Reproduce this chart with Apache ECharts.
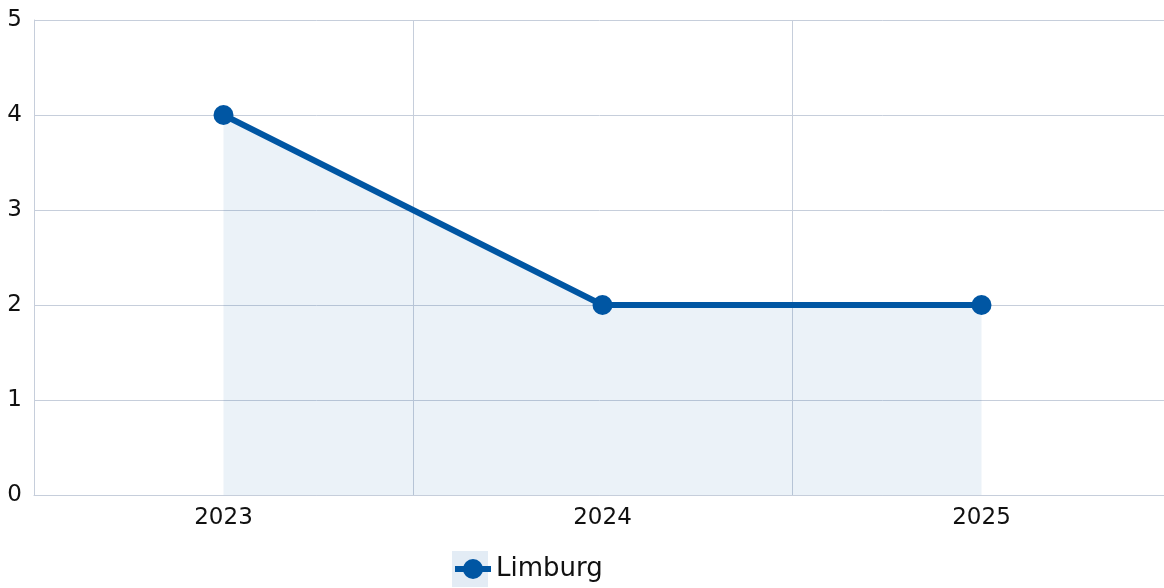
<!DOCTYPE html>
<html>
<head>
<meta charset="utf-8">
<style>
  html, body { margin: 0; padding: 0; background: #ffffff; }
  #chart { width: 1164px; height: 588px; }
</style>
<script src="https://cdn.jsdelivr.net/npm/echarts@6/dist/echarts.min.js"></script>
</head>
<body>
<div id="chart"></div>
<script>
// Yearly counts for Limburg
const years = ['2023', '2024', '2025'];
const limburgValues = [4, 2, 2];
const seriesName = 'Limburg';

const lineColor = '#0056a3';
const areaColor = 'rgba(0, 86, 163, 0.11)';
const gridColor = '#c6cedb';
const font = '"DejaVu Sans", "Noto Sans", sans-serif';

const chart = echarts.init(document.getElementById('chart'), null, { renderer: 'canvas' });

chart.setOption({
  animation: false,
  textStyle: { fontFamily: font },
  // the plot runs slightly past the right edge of the canvas
  grid: { left: 34, top: 20, width: 1137, height: 475, containLabel: false, outerBoundsMode: 'none' },
  legend: {
    data: [seriesName],
    left: 452,
    top: 556,
    itemWidth: 36,
    itemHeight: 25,
    itemGap: 10,
    lineStyle: { width: 6 },
    textStyle: { fontSize: 26, color: '#111', fontFamily: font },
    padding: 0
  },
  xAxis: {
    type: 'category',
    data: years,
    boundaryGap: true,
    axisLine: { lineStyle: { color: gridColor, width: 1 } },
    axisTick: { show: false },
    axisLabel: { fontSize: 23, color: '#111', margin: 12, fontFamily: font },
    splitLine: { show: true, lineStyle: { color: gridColor, width: 1 } }
  },
  yAxis: {
    type: 'value',
    min: 0,
    max: 5,
    interval: 1,
    axisLine: { show: true, lineStyle: { color: gridColor, width: 1 } },
    axisTick: { show: false },
    axisLabel: { fontSize: 23, color: '#111', margin: 12, fontFamily: font },
    splitLine: { show: true, lineStyle: { color: gridColor, width: 1 } }
  },
  series: [{
    name: seriesName,
    type: 'line',
    data: limburgValues,
    symbol: 'circle',
    symbolSize: 20,
    lineStyle: { color: lineColor, width: 6 },
    itemStyle: { color: lineColor },
    areaStyle: { color: areaColor }
  }]
});

// light square behind the legend icon, echoing the filled area
setTimeout(function () {
  const model = chart.getModel().getComponent('legend');
  const view = chart.getViewOfComponentModel(model);
  if (!view) return;
  const rect = view.group.getBoundingRect();
  const gx = view.group.x, gy = view.group.y;
  const cy = gy + rect.y + rect.height / 2;
  chart.setOption({
    graphic: [{
      type: 'rect',
      z: -1,
      silent: true,
      shape: { x: gx + rect.x, y: cy - 18, width: 36, height: 36 },
      style: { fill: areaColor }
    }]
  });
}, 0);
</script>
</body>
</html>
